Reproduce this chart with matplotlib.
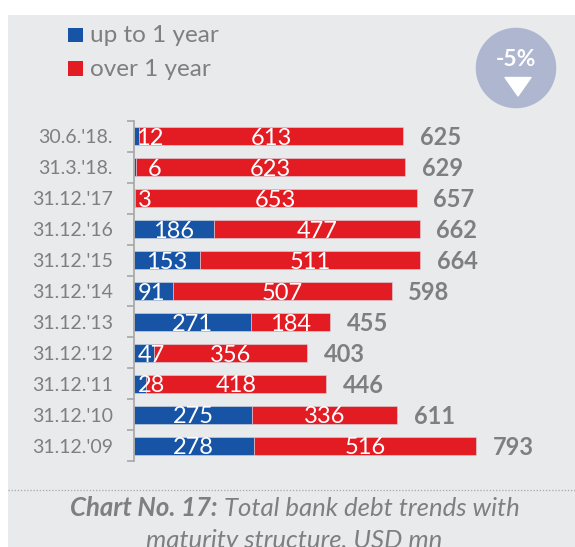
import matplotlib
matplotlib.use("Agg")
import matplotlib.pyplot as plt
from matplotlib.patches import Rectangle, Ellipse, Polygon

dates = ["31.12.'09", "31.12.'10", "31.12.'11", "31.12.'12", "31.12.'13", "31.12.'14",
         "31.12.'15", "31.12.'16", "31.12.'17", "31.3.'18.", "30.6.'18."]
short_term = [278, 275, 28, 47, 271, 91, 153, 186, 3, 6, 12]
long_term = [516, 336, 418, 356, 184, 507, 511, 477, 653, 623, 613]
totals = [793, 611, 446, 403, 455, 598, 664, 662, 657, 629, 625]

W, H = 575, 547
BLUE, RED = "#1754A5", "#E31B23"
GREY, PANEL = "#7F7F7F", "#E9EAEC"
plt.rcParams["font.family"] = ["Lato", "DejaVu Sans"]

fig = plt.figure(figsize=(W / 100, H / 100), dpi=100, facecolor="white")
canvas = fig.add_axes([0, 0, 1, 1], zorder=0)
canvas.set_xlim(0, W)
canvas.set_ylim(H, 0)
canvas.axis("off")
canvas.add_patch(Rectangle((8, 15), W - 8, H - 15, fc=PANEL, ec="none"))

# Bars share one axes, whose category bands span y = 120.7 to 461.3 px
left, top, bottom = 133.8, 120.7, 461.3
ax = fig.add_axes([left / W, 1 - bottom / H, (W - left) / W, (bottom - top) / H], zorder=1)
ax.patch.set_alpha(0)
px_per_unit = 0.431
ax.set_xlim(0, (W - left) / px_per_unit)
ax.set_ylim(-0.5, len(dates) - 0.5)
y = list(range(len(dates)))
ax.barh(y, short_term, height=0.59, color=BLUE, edgecolor="#D5D8E0", linewidth=0.4)
ax.barh(y, long_term, left=short_term, height=0.59, color=RED, edgecolor="#D5D8E0", linewidth=0.4)

for s in ("top", "right", "bottom"):
    ax.spines[s].set_visible(False)
ax.spines["left"].set_color("#A6A6A6")
ax.spines["left"].set_linewidth(1.2)
ax.set_xticks([])
ax.set_yticks([i - 0.5 for i in range(len(dates) + 1)])
ax.set_yticklabels([])
ax.tick_params(axis="y", which="major", length=5, width=1.2, color="#A6A6A6")
ax.set_yticks(y, minor=True)
ax.set_yticklabels(dates, minor=True, fontsize=14, color=GREY)
ax.tick_params(axis="y", which="minor", length=0, pad=15)

# Narrow blue segments push their label to the right, in px
label_shift = {0: 0, 1: 0, 2: 11.5, 3: 7, 4: 0, 5: -2, 6: 0, 7: 0, 8: 10, 9: 20, 10: 13}
num = dict(color="white", fontsize=17, ha="center", va="center")
for i in y:
    ax.annotate(str(short_term[i]), (short_term[i] / 2, i), xytext=(label_shift[i] * 0.72, -1.5),
                textcoords="offset points", **num)
    ax.annotate(str(long_term[i]), (short_term[i] + long_term[i] / 2, i), xytext=(0, -1.5),
                textcoords="offset points", **num)
    ax.annotate(str(totals[i]), (short_term[i] + long_term[i], i), xytext=(12, -1),
                textcoords="offset points", color=GREY, fontsize=17, fontweight="bold",
                ha="left", va="center")

# Legend
for (y0, y1, c, name) in [(27.7, 42, BLUE, "up to 1 year"), (61, 76, RED, "over 1 year")]:
    canvas.add_patch(Rectangle((68, y0), 15, y1 - y0, fc=c, ec="none"))
    canvas.text(90, (y0 + y1) / 2 + 1, name, color=GREY, fontsize=17.5, va="center", ha="left")

# Change badge
canvas.add_patch(Ellipse((516, 68), 80.5, 80.5, fc="#AEB6D0", ec="none"))
canvas.text(516, 60, "-5%", color="white", fontsize=16.5, fontweight="bold", ha="center", va="center")
canvas.add_patch(Polygon([(505, 77.5), (531, 77.5), (518, 96)], closed=True, fc="white", ec="white",
                         lw=1, joinstyle="round"))

# Caption, with a bold lead-in on the first line
canvas.plot([8, W], [490, 490], color="#A6A6A6", lw=0.9, ls=(0, (1, 1.5)))
cap = dict(color=GREY, fontsize=18.5, style="italic", va="center")
lead = canvas.text(70, 508, "Chart No. 17:", fontweight="bold", ha="left", **cap)
renderer = fig.canvas.get_renderer()
end = lead.get_window_extent(renderer).x1
canvas.text(end + 6, 508, "Total bank debt trends with", ha="left", **cap)
canvas.text(294, 541, "maturity structure, USD mn", ha="center", **cap)

fig.savefig("out.png", dpi=100)
